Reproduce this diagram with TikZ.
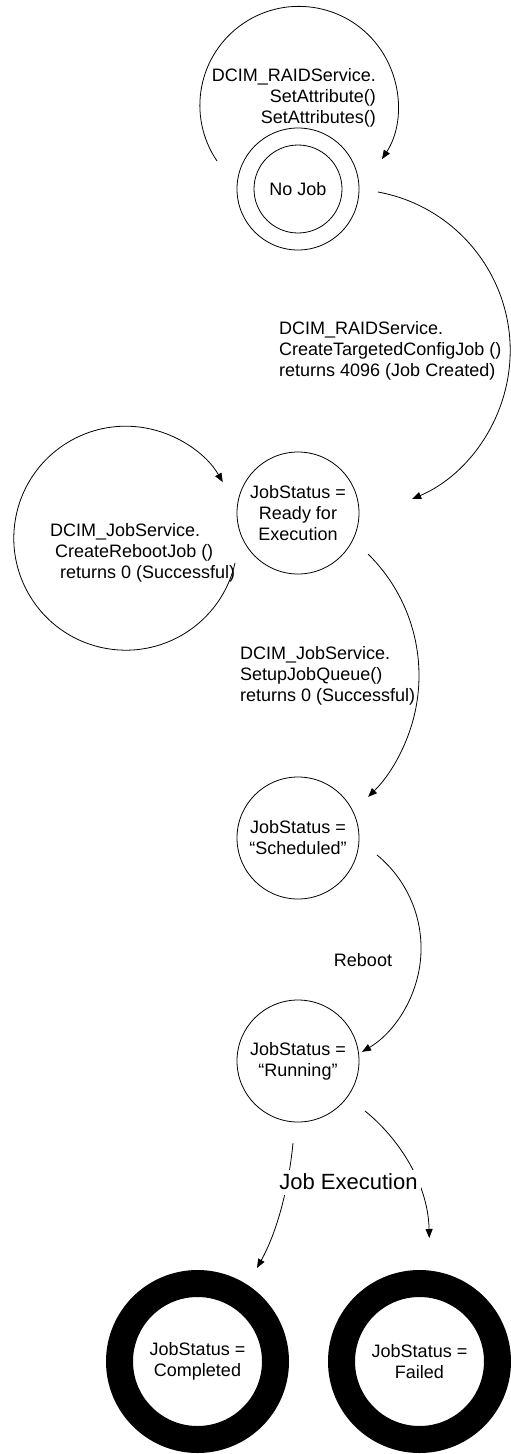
\documentclass[tikz,border=0pt]{standalone}
\usepackage{fontspec}
\setmainfont{Liberation Sans}
\usetikzlibrary{arrows.meta}
\begin{document}
\begin{tikzpicture}[x=1pt,y=1pt,
  every node/.style={font=\fontsize{18}{21}\selectfont},
  state/.style={circle,draw,line width=0.8pt,minimum size=122pt,inner sep=0pt,align=center},
  finalstate/.style={circle,draw,line width=27pt,minimum size=156pt,inner sep=0pt,align=center},
  conn/.style={line width=0.8pt,-{Triangle[length=9pt,width=7pt]}},
  lbl/.style={inner sep=0pt}
]
\fill[white] (0,0) rectangle (511,-1454);
\useasboundingbox (0,0) rectangle (511,-1454);

% states
\node[state] (nojob) at (298,-189) {};
\node[circle,draw,line width=0.8pt,minimum size=88pt,inner sep=0pt] (nojobin) at (nojob.center) {No Job};
\node[state] (ready) at (298,-513) {JobStatus =\\Ready for\\Execution};
\node[state] (sched) at (298,-838) {JobStatus =\\“Scheduled”};
\node[state] (run) at (298,-1061) {JobStatus =\\“Running”};
\node[finalstate] (done) at (197.5,-1361.5) {JobStatus =\\Completed};
\node[finalstate] (fail) at (419.5,-1361.5) {JobStatus =\\Failed};

% connector end points tied to the nodes
\coordinate (s1) at ([shift={(-81,28)}]nojob.center);
\coordinate (s2) at ([shift={(80,-3)}]nojob.center);
\coordinate (s3) at ([shift={(-63,-50)}]ready.center);
\coordinate (s4) at ([shift={(70.1,-41.1)}]ready.center);
\coordinate (s5) at ([shift={(79,-17)}]sched.center);
\coordinate (s6) at ([shift={(-5,-82)}]run.center);
\coordinate (e6) at ([shift={(59.5,93.5)}]done.center);
\coordinate (s7) at ([shift={(67,-50)}]run.center);
\coordinate (e7) at ([shift={(9.8,123.5)}]fail.center);

% connectors
\draw[conn] (s1) arc[start angle=214.2, end angle=-32.9, radius=99];
\draw[conn] (s2) arc[start angle=79.6, end angle=-66.9, radius=161.3];
\draw[conn] (s3) arc[start angle=-12.8, end angle=-330, radius=112];
\draw[conn] (s4) arc[start angle=45.5, end angle=-45.5, radius=170.2];
\draw[conn] (s5) arc[start angle=50.6, end angle=-59.3, radius=120.6];
\draw[conn] (s6) .. controls (289,-1185) and (278,-1230) .. (e6);
\draw[conn] (s7) .. controls (395,-1135) and (428,-1180) .. (e7);

% labels
\node[lbl,anchor=east,align=right] (l1) at (376,-98) {DCIM\_RAIDService.\\SetAttribute()\\SetAttributes()};
\node[lbl,anchor=west,align=left] (l2) at (279,-351) {DCIM\_RAIDService.\\CreateTargetedConfigJob ()\\returns 4096 (Job Created)};
\node[lbl,anchor=west,align=left] (l3) at (50,-553) {DCIM\_JobService.\\\hspace*{5pt}CreateRebootJob ()\\\hspace*{10pt}returns 0 (Successful)};
\node[lbl,anchor=west,align=left] (l4) at (240,-676) {DCIM\_JobService.\\SetupJobQueue()\\returns 0 (Successful)};
\node[lbl] (l5) at (363,-960) {Reboot};
\node[fill=white,inner xsep=3pt,inner ysep=0pt,minimum height=25pt,font=\fontsize{22}{26}\selectfont] (l6) at (348.5,-1182) {Job Execution};
\end{tikzpicture}
\end{document}
